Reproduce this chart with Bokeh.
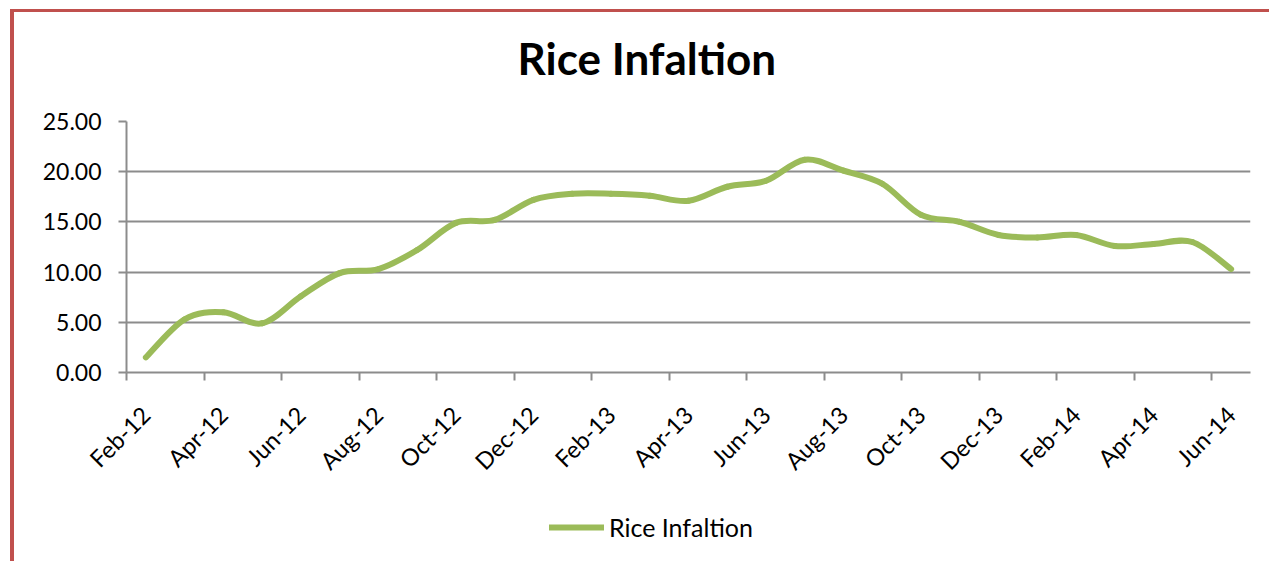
from bokeh.plotting import figure
from bokeh.models import (Range1d, FixedTicker, PrintfTickFormatter, Legend,
                          LegendItem, Label)
from bokeh.layouts import column
from bokeh.embed import file_html
from bokeh.resources import INLINE
from math import pi

# ---------------- data ----------------
months = ["Feb-12", "Mar-12", "Apr-12", "May-12", "Jun-12", "Jul-12", "Aug-12",
          "Sep-12", "Oct-12", "Nov-12", "Dec-12", "Jan-13", "Feb-13", "Mar-13",
          "Apr-13", "May-13", "Jun-13", "Jul-13", "Aug-13", "Sep-13", "Oct-13",
          "Nov-13", "Dec-13", "Jan-14", "Feb-14", "Mar-14", "Apr-14", "May-14",
          "Jun-14"]
rice_inflation = [1.5, 5.3, 6.0, 4.9, 7.6, 9.9, 10.3, 12.2, 14.9, 15.2, 17.2,
                  17.8, 17.8, 17.6, 17.1, 18.5, 19.1, 21.2, 20.1, 18.8, 15.7,
                  15.0, 13.7, 13.45, 13.7, 12.6, 12.8, 13.0, 10.3]
y_ticks = [0, 5, 10, 15, 20, 25]
series_name = "Rice Infaltion"
title_text = "Rice Infaltion"

GREEN = "#9BBB59"
GRAY = "#8C8C8C"
FONT = "Lato"

n = len(months)
xs = [i + 0.5 for i in range(n)]
ys = rice_inflation

# smoothed line (Catmull-Rom -> cubic Bezier), like a spreadsheet "smoothed line"
x0, y0, x1, y1, cx0, cy0, cx1, cy1 = [], [], [], [], [], [], [], []
for i in range(n - 1):
    pm = max(i - 1, 0)
    pp = min(i + 2, n - 1)
    x0.append(xs[i]); y0.append(ys[i])
    x1.append(xs[i + 1]); y1.append(ys[i + 1])
    cx0.append(xs[i] + (xs[i + 1] - xs[pm]) / 6.0)
    cy0.append(ys[i] + (ys[i + 1] - ys[pm]) / 6.0)
    cx1.append(xs[i + 1] - (xs[pp] - xs[i]) / 6.0)
    cy1.append(ys[i + 1] - (ys[pp] - ys[i]) / 6.0)

W = 1255
H0 = 70
H1 = 408
H2 = 71


def strip(height):
    f = figure(width=W, height=height, output_backend="svg",
               toolbar_location=None, x_axis_type=None, y_axis_type=None,
               x_range=Range1d(0, n), y_range=Range1d(0, 25),
               min_border_left=0, min_border_right=0,
               min_border_top=0, min_border_bottom=0)
    f.outline_line_color = None
    f.grid.visible = False
    f.background_fill_color = "white"
    f.border_fill_color = "white"
    return f


# ---- title strip ----
p0 = strip(H0)
p0.add_layout(Label(x=391, y=25, x_units="screen", y_units="screen",
                    text=title_text, text_align="left",
                    text_baseline="alphabetic", text_font=FONT,
                    text_font_style="bold", text_font_size="44px",
                    text_color="black"))

# ---- main chart ----
p = figure(width=W, height=H1, output_backend="svg", toolbar_location=None,
           x_range=Range1d(0, n), y_range=Range1d(0, 25),
           min_border_left=112, min_border_right=19,
           min_border_top=39, min_border_bottom=118)
p.outline_line_color = None
p.background_fill_color = "white"
p.border_fill_color = "white"

r = p.bezier(x0=x0, y0=y0, x1=x1, y1=y1, cx0=cx0, cy0=cy0, cx1=cx1, cy1=cy1,
             line_color=GREEN, line_width=6, line_cap="round")

p.yaxis.ticker = FixedTicker(ticks=y_ticks, minor_ticks=[])
p.yaxis.formatter = PrintfTickFormatter(format="%.2f")
p.yaxis.axis_line_color = GRAY
p.yaxis.axis_line_width = 2
p.yaxis.major_tick_line_color = GRAY
p.yaxis.major_tick_line_width = 2
p.yaxis.major_tick_out = 8
p.yaxis.major_tick_in = 0
p.yaxis.major_label_standoff = 17
p.yaxis.major_label_text_font = FONT
p.yaxis.major_label_text_font_size = "23px"
p.yaxis.major_label_text_color = "black"

label_pos = [xs[i] for i in range(0, n, 2)]
boundaries = [float(i) for i in range(0, n, 2)]
p.xaxis.ticker = FixedTicker(ticks=label_pos, minor_ticks=boundaries)
p.xaxis.major_label_overrides = {xs[i]: months[i] for i in range(0, n, 2)}
p.xaxis.major_label_orientation = pi / 4
p.xaxis.axis_line_color = GRAY
p.xaxis.axis_line_width = 2
p.xaxis.major_tick_line_color = None
p.xaxis.minor_tick_line_color = GRAY
p.xaxis.minor_tick_line_width = 2
p.xaxis.minor_tick_out = 8
p.xaxis.minor_tick_in = 0
p.xaxis.major_label_standoff = 30
p.xaxis.major_label_text_font = FONT
p.xaxis.major_label_text_font_size = "23.5px"
p.xaxis.major_label_text_color = "black"

p.xgrid.visible = False
p.ygrid.ticker = FixedTicker(ticks=y_ticks)
p.ygrid.grid_line_color = GRAY
p.ygrid.grid_line_width = 2

# ---- legend strip ----
p2 = strip(H2)
# legend proxy: a one-point line (draws nothing) carrying the series style
r2 = p2.line(x=xs[:1], y=[-100], line_color=GREEN, line_width=6,
             line_cap="round")
legend = Legend(items=[LegendItem(label=series_name, renderers=[r2])],
                location=(423, 19), orientation="horizontal",
                glyph_width=55, glyph_height=24, label_standoff=5,
                padding=0, margin=0, border_line_color=None,
                background_fill_alpha=0,
                label_text_font=FONT, label_text_font_size="25px",
                label_text_color="black")
p2.add_layout(legend, "center")

layout = column(p0, p, p2, spacing=0)
layout.styles = {"border-left": "4px solid #C0504D",
                 "border-top": "3px solid #C0504D",
                 "margin-left": "10px", "margin-top": "9px"}

open("out.html", "w").write(file_html(layout, INLINE))
